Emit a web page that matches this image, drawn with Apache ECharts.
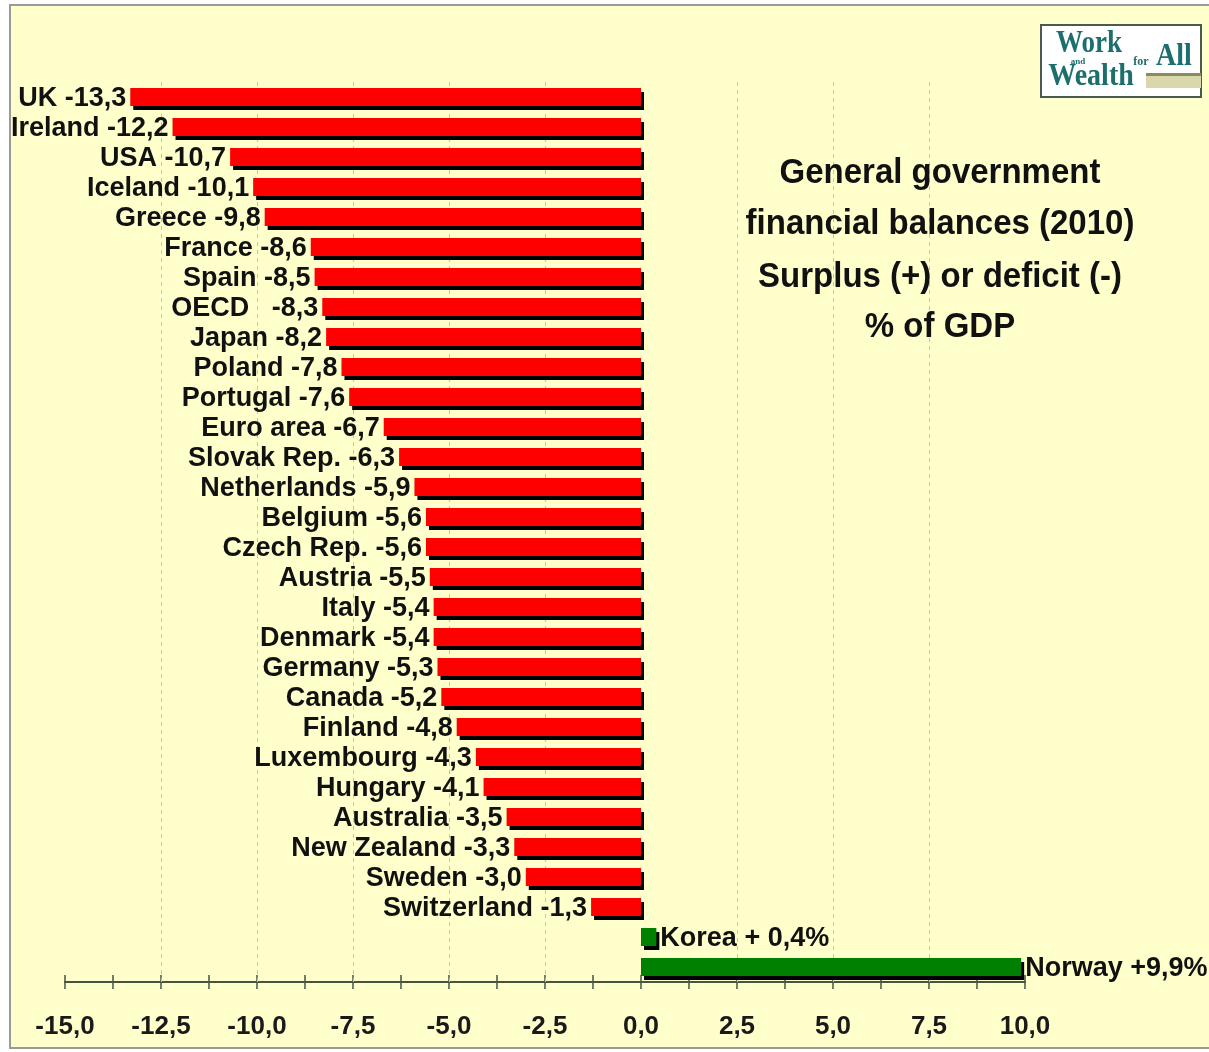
<!DOCTYPE html>
<html>
<head>
<meta charset="utf-8">
<script src="https://cdn.jsdelivr.net/npm/echarts@6/dist/echarts.min.js"></script>
<style>
html,body{margin:0;padding:0;background:#fff;}
#chart{width:1209px;height:1052px;}
</style>
</head>
<body>
<div id="chart"></div>
<script>
// ---- data ----
const categories = ['UK','Ireland','USA','Iceland','Greece','France','Spain','OECD','Japan','Poland','Portugal','Euro area','Slovak Rep.','Netherlands','Belgium','Czech Rep.','Austria','Italy','Denmark','Germany','Canada','Finland','Luxembourg','Hungary','Australia','New Zealand','Sweden','Switzerland','Korea','Norway'];
const values = [-13.3,-12.2,-10.7,-10.1,-9.8,-8.6,-8.5,-8.3,-8.2,-7.8,-7.6,-6.7,-6.3,-5.9,-5.6,-5.6,-5.5,-5.4,-5.4,-5.3,-5.2,-4.8,-4.3,-4.1,-3.5,-3.3,-3.0,-1.3,0.4,9.9];
const barLabels = ['UK -13,3','Ireland -12,2','USA -10,7','Iceland -10,1','Greece -9,8','France -8,6','Spain -8,5','OECD   -8,3','Japan -8,2','Poland -7,8','Portugal -7,6','Euro area -6,7','Slovak Rep. -6,3','Netherlands -5,9','Belgium -5,6','Czech Rep. -5,6','Austria -5,5','Italy -5,4','Denmark -5,4','Germany -5,3','Canada -5,2','Finland -4,8','Luxembourg -4,3','Hungary -4,1','Australia -3,5','New Zealand -3,3','Sweden -3,0','Switzerland -1,3','Korea + 0,4%','Norway +9,9%'];
const tickValues = [-15,-12.5,-10,-7.5,-5,-2.5,0,2.5,5,7.5,10];
const tickLabels = ['-15,0','-12,5','-10,0','-7,5','-5,0','-2,5','0,0','2,5','5,0','7,5','10,0'];
const gridLineValues = [-12.5,-10,-7.5,-5,-2.5,2.5,5,7.5];
const titleLines = ['General government','financial balances (2010)','Surplus (+) or deficit (-)','% of GDP'];

const FONT = '"Liberation Sans", Arial, sans-serif';
const SERIF = '"Liberation Serif", "DejaVu Serif", serif';
const TEAL = '#1d6f6d';

const chart = echarts.init(document.getElementById('chart'));

const barData = values.map((v, i) => ({
  value: v,
  itemStyle: { color: v < 0 ? '#ff0000' : '#008000' },
  label: { position: v < 0 ? 'left' : 'right', formatter: barLabels[i] }
}));

const axisCommon = {
  type: 'value', min: -15, max: 10, interval: 2.5, position: 'bottom',
  splitLine: { show: false }
};

const titleGraphics = titleLines.map((t, i) => ({
  type: 'text', x: 940, y: [173, 224, 277, 327][i], scaleY: 1.08,
  style: { text: t, font: 'bold 33px ' + FONT, fill: '#111', textAlign: 'center', textVerticalAlign: 'middle' },
  z: 10
}));

chart.setOption({
  backgroundColor: '#ffffff',
  animation: false,
  grid: { left: 65, width: 960, top: 82, height: 900, containLabel: false },
  xAxis: [
    Object.assign({}, axisCommon, {
      axisLine: { show: true, onZero: false, lineStyle: { color: '#445544', width: 2 } },
      axisTick: { show: true, inside: false, length: 7, lineStyle: { color: '#445544', width: 1.5 } },
      minorTick: { show: true, splitNumber: 2, length: 7, lineStyle: { color: '#445544', width: 1.5 } },
      axisLabel: {
        show: true, margin: 32, color: '#1a1a1a', fontFamily: FONT, fontWeight: 'bold', fontSize: 26,
        formatter: v => { const k = tickValues.findIndex(t => Math.abs(t - v) < 1e-6); return k >= 0 ? tickLabels[k] : ''; }
      }
    }),
    Object.assign({}, axisCommon, {
      axisLine: { show: false, onZero: false },
      axisTick: { show: true, inside: true, length: 7, lineStyle: { color: '#445544', width: 1.5 } },
      minorTick: { show: true, splitNumber: 2, length: 7, lineStyle: { color: '#445544', width: 1.5 } },
      axisLabel: { show: false }
    })
  ],
  yAxis: { type: 'category', data: categories, inverse: true, show: false },
  graphic: [
    { type: 'rect', shape: { x: 10, y: 5, width: 1220, height: 1043 },
      style: { fill: '#ffffcc', stroke: '#9a9a9a', lineWidth: 2 }, z: -100, silent: true },
    // logo
    { type: 'rect', shape: { x: 1041, y: 25, width: 160, height: 72 },
      style: { fill: '#ffffff', stroke: '#4a5a50', lineWidth: 2 }, z: 10 },
    { type: 'rect', shape: { x: 1146, y: 75, width: 55, height: 13 },
      style: { fill: '#d8d8ac' }, z: 11 },
    { type: 'rect', shape: { x: 1146, y: 73, width: 55, height: 3 },
      style: { fill: '#8c8c58' }, z: 11 },
    { type: 'text', x: 1089, y: 44, scaleY: 1.15,
      style: { text: 'Work', font: 'bold 27px ' + SERIF, fill: TEAL, textAlign: 'center', textVerticalAlign: 'middle' }, z: 12 },
    { type: 'text', x: 1078, y: 62,
      style: { text: 'and', font: 'bold 9px ' + SERIF, fill: TEAL, textAlign: 'center', textVerticalAlign: 'middle' }, z: 12 },
    { type: 'text', x: 1091, y: 77, scaleY: 1.15,
      style: { text: 'Wealth', font: 'bold 28px ' + SERIF, fill: TEAL, textAlign: 'center', textVerticalAlign: 'middle' }, z: 12 },
    { type: 'text', x: 1141, y: 62,
      style: { text: 'for', font: 'bold 12px ' + SERIF, fill: TEAL, textAlign: 'center', textVerticalAlign: 'middle' }, z: 12 },
    { type: 'text', x: 1174, y: 57, scaleY: 1.15,
      style: { text: 'All', font: 'bold 28px ' + SERIF, fill: TEAL, textAlign: 'center', textVerticalAlign: 'middle' }, z: 12 }
  ].concat(titleGraphics),
  series: [
    {
      type: 'line', data: [], z: 1, silent: true,
      markLine: {
        z: 1, silent: true, symbol: 'none', animation: false,
        label: { show: false },
        lineStyle: { type: [4, 4], color: '#b9c2d4', width: 1 },
        data: gridLineValues.map(v => ({ xAxis: v }))
      }
    },
    {
      type: 'bar', data: barData, barWidth: 18, z: 3,
      itemStyle: { shadowColor: '#000', shadowBlur: 0, shadowOffsetX: 3, shadowOffsetY: 4 },
      label: { show: true, distance: 4, offset: [0, 2], color: '#111', fontFamily: FONT, fontWeight: 'bold', fontSize: 27 }
    }
  ]
});
</script>
</body>
</html>
